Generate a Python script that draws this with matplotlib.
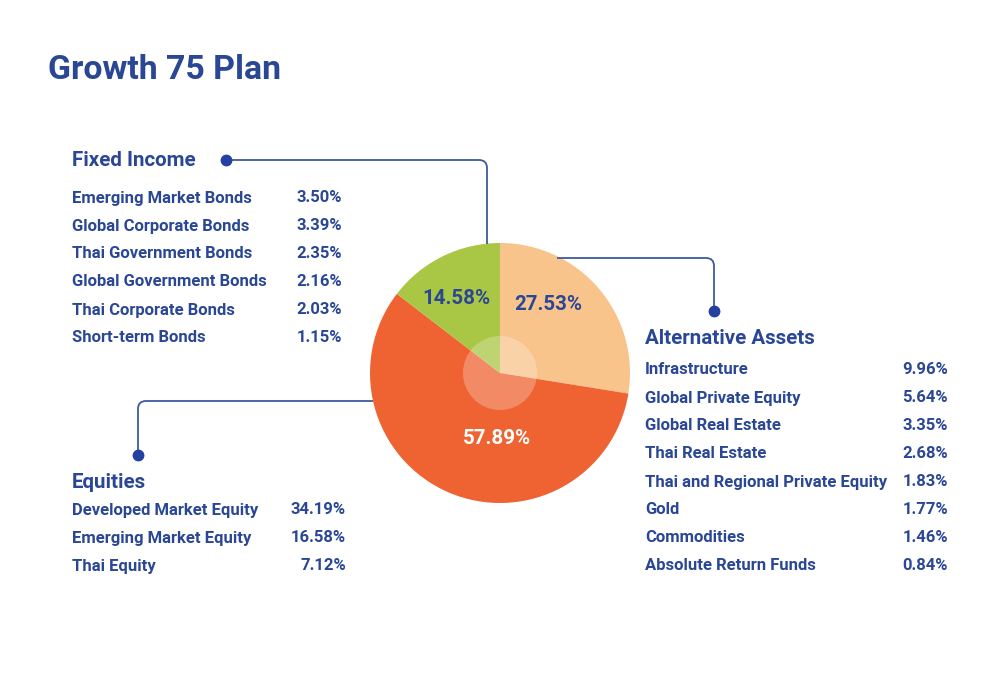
import matplotlib.pyplot as plt
from matplotlib.path import Path
from matplotlib.patches import PathPatch, Circle

plt.rcParams['font.family'] = ['Roboto', 'DejaVu Sans']

# asset classes and weights (%)
class_names = ["Alternative Assets", "Equities", "Fixed Income"]
class_values = [27.53, 57.89, 14.58]

fixed_income_names = ["Emerging Market Bonds", "Global Corporate Bonds", "Thai Government Bonds",
                      "Global Government Bonds", "Thai Corporate Bonds", "Short-term Bonds"]
fixed_income_values = [3.50, 3.39, 2.35, 2.16, 2.03, 1.15]

equity_names = ["Developed Market Equity", "Emerging Market Equity", "Thai Equity"]
equity_values = [34.19, 16.58, 7.12]

alt_names = ["Infrastructure", "Global Private Equity", "Global Real Estate", "Thai Real Estate",
             "Thai and Regional Private Equity", "Gold", "Commodities", "Absolute Return Funds"]
alt_values = [9.96, 5.64, 3.35, 2.68, 1.83, 1.77, 1.46, 0.84]

BLUE = "#2a4796"
LINE = "#3d5a9e"
colors = ["#f9c48b", "#ef6333", "#a9c644"]

H = 700


def Y(y):
    # pixel row from top -> data y
    return H - y


fig = plt.figure(figsize=(10, 7), dpi=100)
ax = fig.add_axes([0, 0, 1, 1])
ax.set_xlim(0, 1000)
ax.set_ylim(0, H)
ax.set_aspect("equal")
ax.axis("off")

cx, cy, r = 500, 373, 130
ax.pie(class_values, colors=colors, startangle=90, counterclock=False,
       center=(cx, Y(cy)), radius=r, wedgeprops=dict(linewidth=0))
ax.add_patch(Circle((cx, Y(cy)), 37, facecolor="white", alpha=0.25, linewidth=0, zorder=5))
ax.set_xlim(0, 1000)
ax.set_ylim(0, H)

pie_labels = [f"{v:.2f}%" for v in class_values]
ax.text(548, Y(305), pie_labels[0], color=BLUE, fontsize=14.8, fontweight="bold",
        ha="center", va="center", zorder=6)
ax.text(497, Y(438), pie_labels[1], color="white", fontsize=14.8, fontweight="bold",
        ha="center", va="center", zorder=6)
ax.text(456, Y(298), pie_labels[2], color=BLUE, fontsize=14.8, fontweight="bold",
        ha="center", va="center", zorder=6)


def connector(p0, corner, p1, rad=8):
    # polyline with one rounded corner
    (x0, y0), (xc, yc), (x1, y1) = p0, corner, p1
    def toward(a, b, d):
        dx, dy = b[0] - a[0], b[1] - a[1]
        n = (dx ** 2 + dy ** 2) ** 0.5
        return (a[0] + dx / n * d, a[1] + dy / n * d)
    a = toward((xc, yc), (x0, y0), rad)
    b = toward((xc, yc), (x1, y1), rad)
    pts = [(x0, Y(y0)), (a[0], Y(a[1])), (xc, Y(yc)), (b[0], Y(b[1])), (x1, Y(y1))]
    codes = [Path.MOVETO, Path.LINETO, Path.CURVE3, Path.CURVE3, Path.LINETO]
    ax.add_patch(PathPatch(Path(pts, codes), facecolor="none", edgecolor=LINE, linewidth=1.3, zorder=2))
    ax.plot([x0], [Y(y0)], "o", color="#2440a0", markersize=7.5, zorder=3)


connector((226, 160), (487, 160), (487, 244))
connector((714, 311), (714, 258), (557, 258))
connector((138, 455), (138, 401), (373, 401))

ax.text(48, Y(70), "Growth 75 Plan", color=BLUE, fontsize=24.4, fontweight="bold",
        ha="left", va="center")


def block(x, y_head, y_first, names, values, x_val, heading):
    ax.text(x, Y(y_head), heading, color=BLUE, fontsize=14.8, fontweight="bold",
            ha="left", va="center")
    for i, (n, v) in enumerate(zip(names, values)):
        yy = Y(y_first + 28 * i)
        ax.text(x, yy, n, color=BLUE, fontsize=12, fontweight="bold", ha="left", va="center")
        ax.text(x_val, yy, f"{v:.2f}%", color=BLUE, fontsize=12, fontweight="bold",
                ha="right", va="center")


block(72, 160, 198, fixed_income_names, fixed_income_values, 342, class_names[2])
block(72, 482, 510, equity_names, equity_values, 346, class_names[1])
block(645, 339, 370, alt_names, alt_values, 948, class_names[0])

fig.savefig("out.png", dpi=100, facecolor="white")
